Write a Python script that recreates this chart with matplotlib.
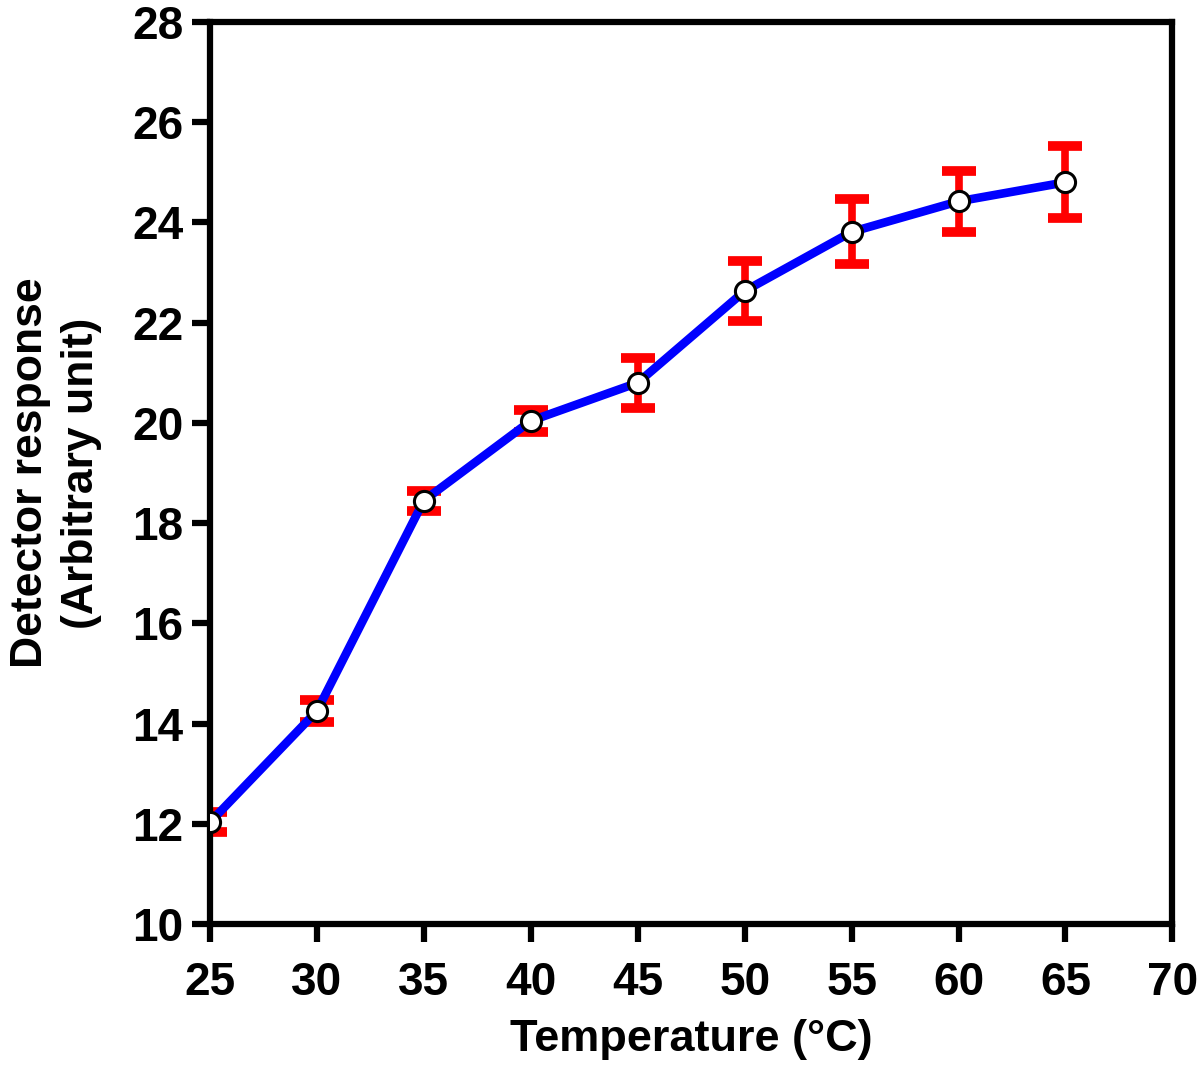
import matplotlib
matplotlib.use("Agg")
import matplotlib.pyplot as plt

temperature = [25, 30, 35, 40, 45, 50, 55, 60, 65]
response = [12.03, 14.25, 18.45, 20.04, 20.80, 22.63, 23.81, 24.42, 24.80]
response_err = [0.20, 0.22, 0.20, 0.22, 0.50, 0.59, 0.65, 0.61, 0.72]

plt.rcParams["font.family"] = ["Liberation Sans", "DejaVu Sans"]
plt.rcParams["font.weight"] = "bold"

fig = plt.figure(figsize=(12, 10.65), dpi=100)
ax = fig.add_axes([0.175, 0.1324, 0.802, 0.847])

# error bars first, then line, then open markers on top
ax.errorbar(temperature, response, yerr=response_err, fmt="none",
            ecolor="#ff0000", elinewidth=5.5, capsize=12, capthick=7, zorder=2)
ax.plot(temperature, response, color="#0000ff", lw=6.2, zorder=3)
ax.plot(temperature, response, "o", ms=14.5, mfc="white", mec="black",
        mew=2.2, zorder=4)

ax.set_xlim(25, 70)
ax.set_ylim(10, 28)
ax.set_xticks(range(25, 71, 5))
ax.set_yticks(range(10, 29, 2))

for s in ax.spines.values():
    s.set_linewidth(4.5)
ax.tick_params(axis="both", width=4.5, length=13, labelsize=33)
ax.tick_params(axis="x", pad=14)
ax.tick_params(axis="y", pad=6)
for lab in ax.get_xticklabels() + ax.get_yticklabels():
    lab.set_fontweight("bold")

ax.set_xlabel("Temperature (°C)", fontsize=32.5, fontweight="bold", labelpad=10)
ax.set_ylabel("Detector response\n(Arbitrary unit)", fontsize=32,
              fontweight="bold", labelpad=22, linespacing=1.3)

fig.savefig("out.png", dpi=100)
